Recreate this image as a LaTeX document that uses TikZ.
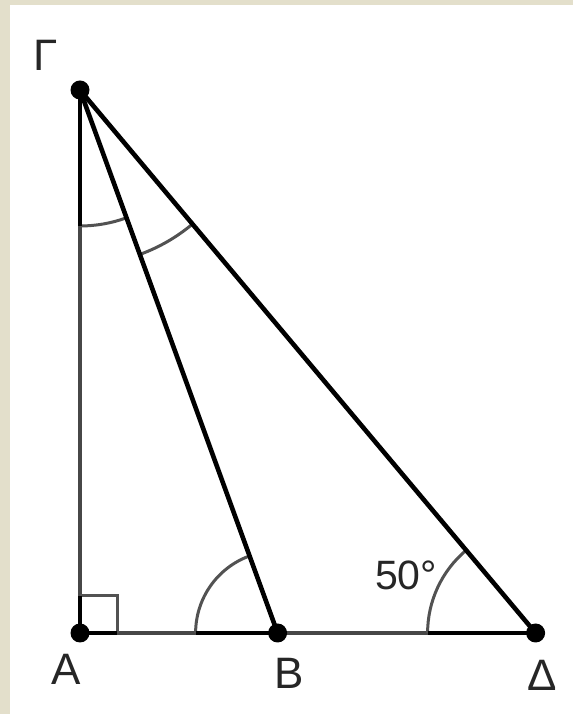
\documentclass[tikz,border=0pt]{standalone}
\usepackage{fontspec}
\setmainfont{Liberation Sans}
\begin{document}
\begin{tikzpicture}[x=1pt,y=1pt,
  blackline/.style={line width=4.6pt, black},
  grayline/.style={line width=4.2pt, black!72},
  anglearc/.style={line width=3pt, black!68},
  ptdot/.style={circle, fill=black, inner sep=0pt, minimum size=19pt},
  lbl/.style={font=\fontsize{44}{44}\selectfont, text=black!85, inner sep=0pt}]
\definecolor{frame}{RGB}{227,223,203}
\fill[frame] (0,0) rectangle (573,714);
\fill[white] (10,0) rectangle (573,709);
\useasboundingbox (0,0) rectangle (573,714);
\coordinate (G) at (80,624);
\coordinate (A) at (80,81);
\coordinate (B) at (277.6,81);
\coordinate (D) at (535.6,81);
% gray base and left side
\draw[grayline] (A) -- (D);
\draw[grayline] (A) -- (G);
% right angle square
\draw[anglearc] ([shift={(0,37)}]A) -- ([shift={(37,37)}]A) -- ([shift={(37,0)}]A);
% angle arcs
\draw[anglearc] ([shift={(G)}]270:136) arc[start angle=270,end angle=290,radius=136];
\draw[anglearc] ([shift={(G)}]290:175) arc[start angle=290,end angle=310,radius=175];
\draw[anglearc] ([shift={(B)}]110:82) arc[start angle=110,end angle=180,radius=82];
\draw[anglearc] ([shift={(D)}]130:108) arc[start angle=130,end angle=180,radius=108];
% dark sector edges
\draw[blackline] (G) -- ([shift={(0,-136)}]G);
\draw[blackline] (A) -- ([shift={(0,37)}]A);
\draw[blackline] (A) -- ([shift={(37,0)}]A);
\draw[blackline] ([shift={(-82,0)}]B) -- (B);
\draw[blackline] ([shift={(-108,0)}]D) -- (D);
% black sides
\draw[blackline] (G) -- (B);
\draw[blackline] (G) -- (D);
% points
\node[ptdot] (gdot) at (G) {};
\node[ptdot] (adot) at (A) {};
\node[ptdot] (bdot) at (B) {};
\node[ptdot] (ddot) at (D) {};
% labels
\node[lbl] (lG) at (46,659) {Γ};
\node[lbl] (lA) at (66,45) {A};
\node[lbl] (lB) at (289,41) {B};
\node[lbl] (lD) at (542,39) {Δ};
\node[lbl, font=\fontsize{41}{41}\selectfont] (l50) at (406,139) {50°};
\end{tikzpicture}
\end{document}
